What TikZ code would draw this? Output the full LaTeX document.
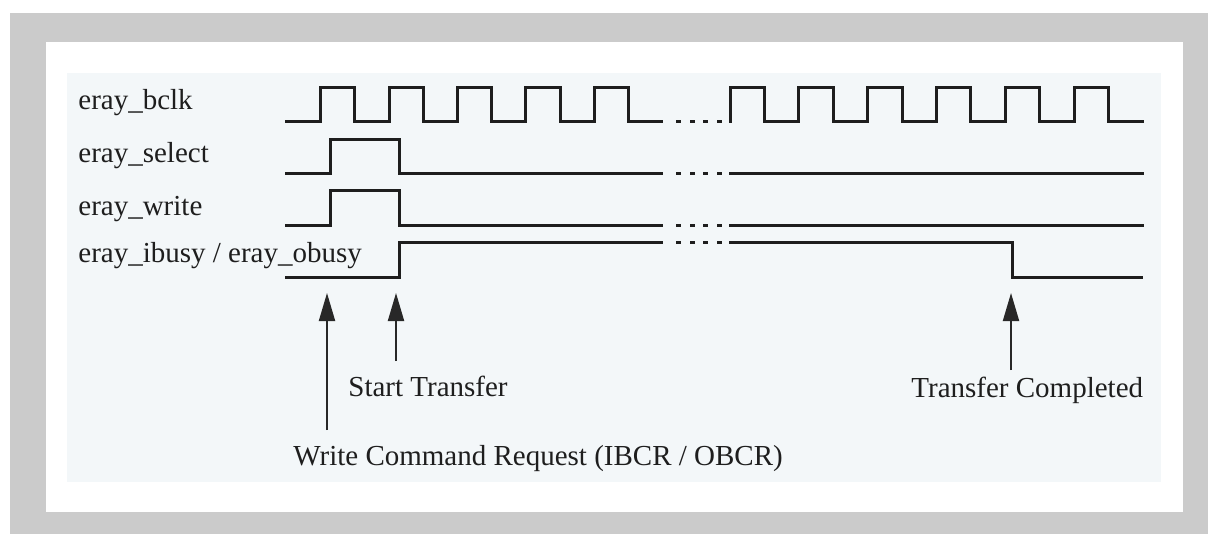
\documentclass[tikz,border=0pt]{standalone}
\usepackage{fontspec}
\setmainfont{Liberation Serif}
\usepackage{xcolor}
\usetikzlibrary{arrows.meta,positioning}
\definecolor{frameGray}{RGB}{203,203,203}
\definecolor{panelBlue}{RGB}{243,247,249}
\definecolor{sigBlack}{RGB}{30,30,30}
\definecolor{arrGray}{RGB}{40,40,40}
\tikzset{
  siglabel/.style={anchor=base west, inner sep=0pt, text=sigBlack, font=\fontsize{14.5}{17}\selectfont},
  sigline/.style={sigBlack, line width=1.5pt, line join=miter},
  evarrow/.style={arrGray, line width=1pt, -{Triangle[length=14pt,width=8pt]}}
}

\begin{document}
\begin{tikzpicture}[x=0.5pt, y=-0.5pt]
\useasboundingbox (0,0) rectangle (1208,534);
\fill[frameGray] (10,13) rectangle (1208,534);
\fill[white] (46,42) rectangle (1183,512);
\fill[panelBlue] (67,73) rectangle (1161,482);
% signal names
\node[siglabel] (bclk) at (78,110) {eray\_bclk};
\node[siglabel] (select) at (78,163) {eray\_select};
\node[siglabel] (write) at (78,215) {eray\_write};
\node[siglabel] (busy) at (78,262) {eray\_ibusy / eray\_obusy};
% clock
\draw[sigline] (285,122) foreach \x in {320.7,389.1,457.5,525.9,594.3} {
  -- (\x,122) -- (\x,88) -- (\x+34.2,88) -- (\x+34.2,122)} -- (663,122);
\draw[sigline] (729,122) foreach \x in {730,798.8,867.6,936.4,1005.2,1074} {
  -- (\x,122) -- (\x,88) -- (\x+34.4,88) -- (\x+34.4,122)} -- (1144,122);
% select, write
\draw[sigline] (285,174) -- (330,174) -- (330,140) -- (399,140) -- (399,174) -- (663,174);
\draw[sigline] (729,174) -- (1144,174);
\draw[sigline] (285,225) -- (330,225) -- (330,191) -- (399,191) -- (399,225) -- (663,225);
\draw[sigline] (729,225) -- (1144,225);
% busy
\draw[sigline] (285,277) -- (399,277) -- (399,242) -- (663,242);
\draw[sigline] (729,242) -- (1012,242) -- (1012,277) -- (1143,277);
% gaps
\foreach \y in {122,174,225,242}
  \foreach \x in {676,690,703,717}
    \draw[sigline] (\x,\y) -- (\x+5,\y);
% events
\coordinate (wcrTip) at (327,293);
\coordinate (wcrTail) at (327,430);
\coordinate (stTip) at (396,293);
\coordinate (stTail) at (396,361);
\coordinate (tcTip) at (1011,293);
\coordinate (tcTail) at (1011,370);
\draw[evarrow] (wcrTail) -- (wcrTip);
\draw[evarrow] (stTail) -- (stTip);
\draw[evarrow] (tcTail) -- (tcTip);
\node[siglabel] (st) at (348,396) {Start Transfer};
\node[siglabel] (tc) at (911,397) {Transfer Completed};
\node[siglabel] (wcr) at (293,465) {Write Command Request (IBCR / OBCR)};
\end{tikzpicture}
\end{document}
